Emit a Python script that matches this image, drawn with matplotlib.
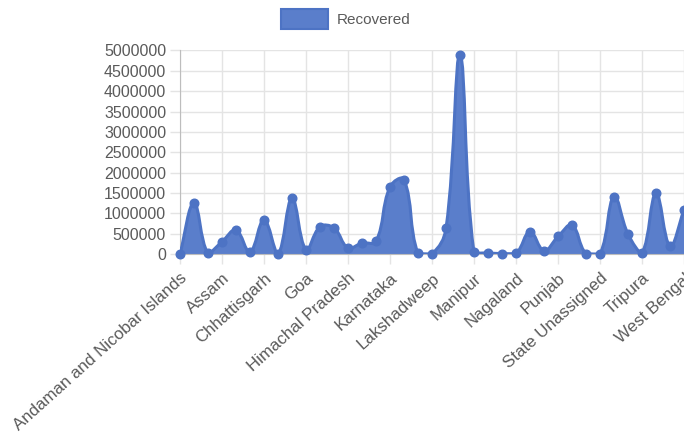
import numpy as np
import matplotlib
matplotlib.use("Agg")
import matplotlib.pyplot as plt
from matplotlib.path import Path
from matplotlib.patches import PathPatch, Patch
from matplotlib.ticker import FixedLocator, FuncFormatter

# Recovered cases by state / union territory
states = [
    "Andaman and Nicobar Islands", "Andhra Pradesh", "Arunachal Pradesh", "Assam",
    "Bihar", "Chandigarh", "Chhattisgarh", "Dadra and Nagar Haveli and Daman and Diu",
    "Delhi", "Goa", "Gujarat", "Haryana", "Himachal Pradesh", "Jammu and Kashmir",
    "Jharkhand", "Karnataka", "Kerala", "Ladakh", "Lakshadweep", "Madhya Pradesh",
    "Maharashtra", "Manipur", "Meghalaya", "Mizoram", "Nagaland", "Odisha",
    "Puducherry", "Punjab", "Rajasthan", "Sikkim", "State Unassigned", "Tamil Nadu",
    "Telangana", "Tripura", "Uttar Pradesh", "Uttarakhand", "West Bengal",
]
recovered = [
    7000, 1250000, 20000, 300000,
    590000, 50000, 840000, 10000,
    1370000, 110000, 670000, 640000, 150000, 270000,
    310000, 1650000, 1830000, 15000, 5000, 630000,
    4900000, 40000, 25000, 10000, 15000, 550000,
    80000, 430000, 710000, 8000, 0, 1410000,
    490000, 35000, 1490000, 200000, 1080000,
]
series_name = "Recovered"
y_ticks = list(range(0, 5000001, 500000))
label_step = 3

FILL = "#5a7ecb"
EDGE = "#4d73c4"
GRID = "#e4e4e4"
AXIS = "#bdbdbd"
TEXT = "#5a5a5a"
FONT = ["Liberation Sans", "DejaVu Sans"]

W, H = 684, 440
fig = plt.figure(figsize=(W / 100, H / 100), dpi=100)
ax = fig.add_axes([180 / W, (H - 254) / H, (W - 180) / W, (254 - 50.5) / H])

n = len(recovered)
xs = np.arange(n, dtype=float)
ys = np.asarray(recovered, dtype=float)
ax.set_xlim(0, n - 1)
ax.set_ylim(y_ticks[0], y_ticks[-1])

# Smooth curve: cardinal spline with tension 0.4, control points kept inside the plot area
tension = 0.4
pts = ax.transData.transform(np.column_stack([xs, ys]))
bb = ax.bbox
cp_in = np.zeros_like(pts)
cp_out = np.zeros_like(pts)
for i in range(n):
    p0 = pts[i - 1] if i > 0 else pts[i]
    p1 = pts[i]
    p2 = pts[i + 1] if i < n - 1 else pts[i]
    d01 = np.hypot(*(p1 - p0))
    d12 = np.hypot(*(p2 - p1))
    tot = d01 + d12
    s01 = d01 / tot if tot else 0.0
    s12 = d12 / tot if tot else 0.0
    cp_in[i] = p1 - tension * s01 * (p2 - p0)
    cp_out[i] = p1 + tension * s12 * (p2 - p0)
for arr in (cp_in, cp_out):
    arr[:, 0] = np.clip(arr[:, 0], bb.x0, bb.x1)
    arr[:, 1] = np.clip(arr[:, 1], bb.y0, bb.y1)

inv = ax.transData.inverted()
verts = [pts[0]]
codes = [Path.MOVETO]
for i in range(1, n):
    verts += [cp_out[i - 1], cp_in[i], pts[i]]
    codes += [Path.CURVE4] * 3
line_verts = inv.transform(np.array(verts))

fill_verts = np.vstack([line_verts, [[xs[-1], 0.0], [xs[0], 0.0], line_verts[0]]])
fill_codes = codes + [Path.LINETO, Path.LINETO, Path.CLOSEPOLY]
ax.add_patch(PathPatch(Path(fill_verts, fill_codes), facecolor=FILL, edgecolor="none", zorder=2))
ax.add_patch(PathPatch(Path(line_verts, codes), facecolor="none", edgecolor=EDGE,
                       linewidth=2.2, zorder=3, capstyle="round", joinstyle="round"))
ax.plot(xs, ys, linestyle="none", marker="o", markersize=6.2, color=EDGE,
        markeredgecolor=EDGE, zorder=4, clip_on=False)

# Axes, ticks and grid
tick_idx = list(range(0, n, label_step))
ax.xaxis.set_major_locator(FixedLocator(tick_idx))
ax.set_xticklabels([states[i] for i in tick_idx])
ax.yaxis.set_major_locator(FixedLocator(y_ticks))
ax.yaxis.set_major_formatter(FuncFormatter(lambda v, p: f"{int(round(v))}"))
ax.grid(True, color=GRID, linewidth=1.0, zorder=0)
ax.set_axisbelow(True)
ax.tick_params(axis="both", length=7.5, width=1.0, color=GRID, labelcolor=TEXT)
ax.tick_params(axis="y", pad=2.5)
ax.tick_params(axis="x", pad=4.5)
for lab in ax.get_yticklabels():
    lab.set_family(FONT)
    lab.set_fontsize(11.5)
for lab in ax.get_xticklabels():
    lab.set_family(FONT)
    lab.set_fontsize(12.2)
    lab.set_rotation(42)
    lab.set_ha("right")
    lab.set_va("top")
    lab.set_rotation_mode("anchor")
for side in ("top", "right"):
    ax.spines[side].set_visible(False)
ax.spines["left"].set_color(AXIS)
ax.spines["bottom"].set_color(AXIS)
ax.spines["left"].set_zorder(1)

# Legend
handle = Patch(facecolor=FILL, edgecolor=EDGE, linewidth=1.5, label=series_name)
leg = fig.legend(handles=[handle], loc="center", bbox_to_anchor=(345.5 / W, 1 - 19 / H),
                 frameon=False, borderpad=0, handlelength=3.1, handleheight=1.55,
                 handletextpad=0.55, prop={"family": FONT, "size": 11})
for t in leg.get_texts():
    t.set_color(TEXT)

fig.savefig("out.png", dpi=100)
